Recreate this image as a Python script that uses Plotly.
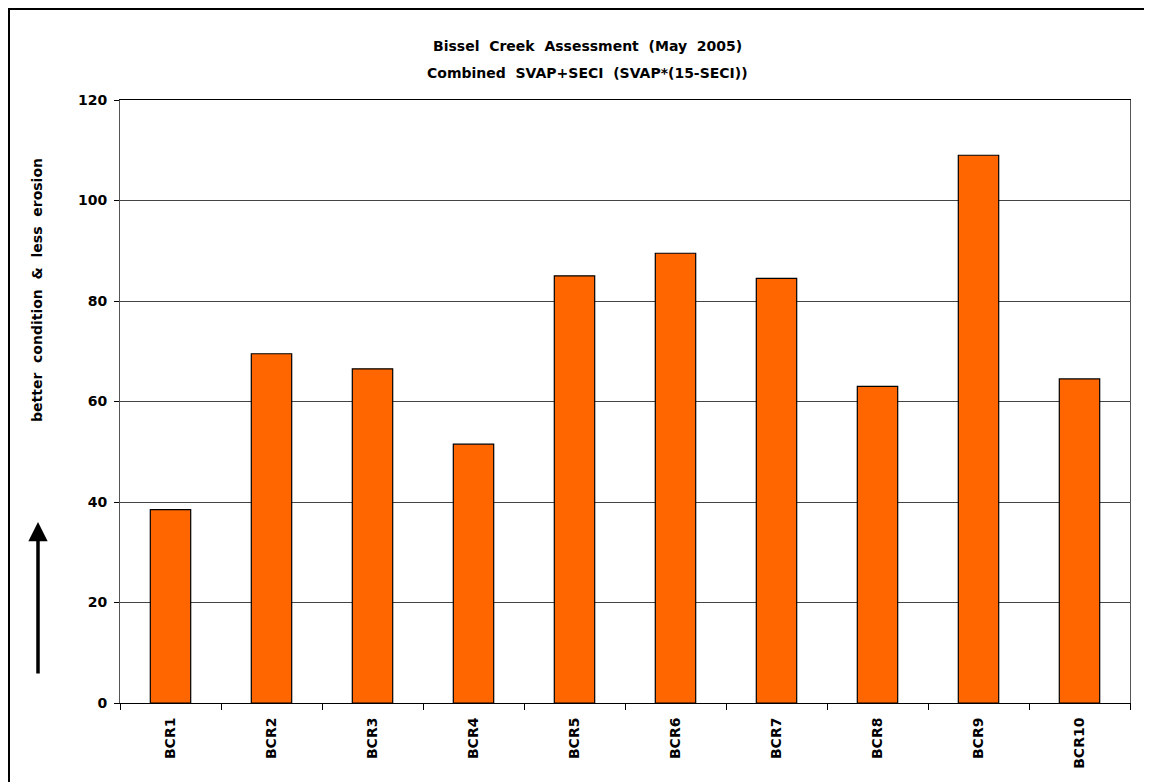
import plotly.graph_objects as go

categories = ["BCR1", "BCR2", "BCR3", "BCR4", "BCR5", "BCR6", "BCR7", "BCR8", "BCR9", "BCR10"]
values = [38.5, 69.5, 66.5, 51.5, 85.0, 89.5, 84.5, 63.0, 109.0, 64.5]
y_ticks = [0, 20, 40, 60, 80, 100, 120]

title_line1 = "Bissel  Creek  Assessment  (May  2005)"
title_line2 = "Combined  SVAP+SECI  (SVAP*(15-SECI))"
y_title = "better  condition  &  less  erosion"

FONT = "DejaVu Sans"

# page offset of the figure inside the browser page (body margin)
OFF = 8
# desired plot area in page pixels
PL, PR, PT, PB = 120, 1130, 100, 703
W, H = 1144, 774
L = PL - OFF
T = PT - OFF
R = W - (PR - OFF)
B = H - (PB - OFF)
pw = PR - PL
ph = PB - PT


def px_x(px):
    return (px - PL) / pw


def px_y(py):
    return (PB - py) / ph


fig = go.Figure()
fig.add_trace(go.Bar(
    x=categories, y=values,
    marker=dict(color="#FF6600", line=dict(color="#000000", width=1.2)),
    width=0.4,
    hoverinfo="x+y",
))

fig.update_layout(
    width=W, height=H,
    margin=dict(l=L, r=R, t=T, b=B, pad=0),
    paper_bgcolor="white", plot_bgcolor="white",
    showlegend=False,
    font=dict(family=FONT, color="black"),
    xaxis=dict(
        type="category",
        showline=True, linecolor="#000000", linewidth=1,
        mirror=True,
        ticks="outside", tickson="boundaries", ticklen=6, tickcolor="#000000",
        tickangle=-90, ticklabelstandoff=8,
        tickfont=dict(family=FONT, size=14, color="black", weight="bold"),
        showgrid=False,
    ),
    yaxis=dict(
        range=[0, 120], tickvals=y_ticks,
        showline=True, linecolor="#555555", linewidth=1, mirror=True,
        ticks="outside", ticklen=5, tickcolor="#000000", ticklabelstandoff=4,
        showgrid=True, gridcolor="#444444", gridwidth=1,
        zeroline=False,
        tickfont=dict(family=FONT, size=14, color="black", weight="bold"),
    ),
)

annotations = [
    dict(text="<b>" + title_line1 + "</b>", xref="paper", yref="paper",
         x=px_x(587), y=px_y(46), xanchor="center", yanchor="middle",
         showarrow=False, font=dict(family=FONT, size=14, color="black")),
    dict(text="<b>" + title_line2 + "</b>", xref="paper", yref="paper",
         x=px_x(587), y=px_y(73), xanchor="center", yanchor="middle",
         showarrow=False, font=dict(family=FONT, size=14, color="black")),
    dict(text="<b>" + y_title + "</b>", xref="paper", yref="paper",
         x=px_x(37), y=px_y(290), xanchor="center", yanchor="middle",
         textangle=-90, showarrow=False,
         font=dict(family=FONT, size=14, color="black")),
    dict(text="", xref="paper", yref="paper",
         x=px_x(38), y=px_y(522), ax=0, ay=153,
         showarrow=True, arrowhead=2, arrowsize=1.1, arrowwidth=3.5,
         arrowcolor="black"),
]
fig.update_layout(annotations=annotations)

# outer frame of the scanned figure (runs off the right and bottom edges)
fig.add_shape(type="rect", xref="paper", yref="paper",
              x0=px_x(9), y0=px_y(820), x1=px_x(1200), y1=px_y(9),
              line=dict(color="black", width=2), fillcolor="rgba(0,0,0,0)", layer="below")

fig.write_html("out.html")
